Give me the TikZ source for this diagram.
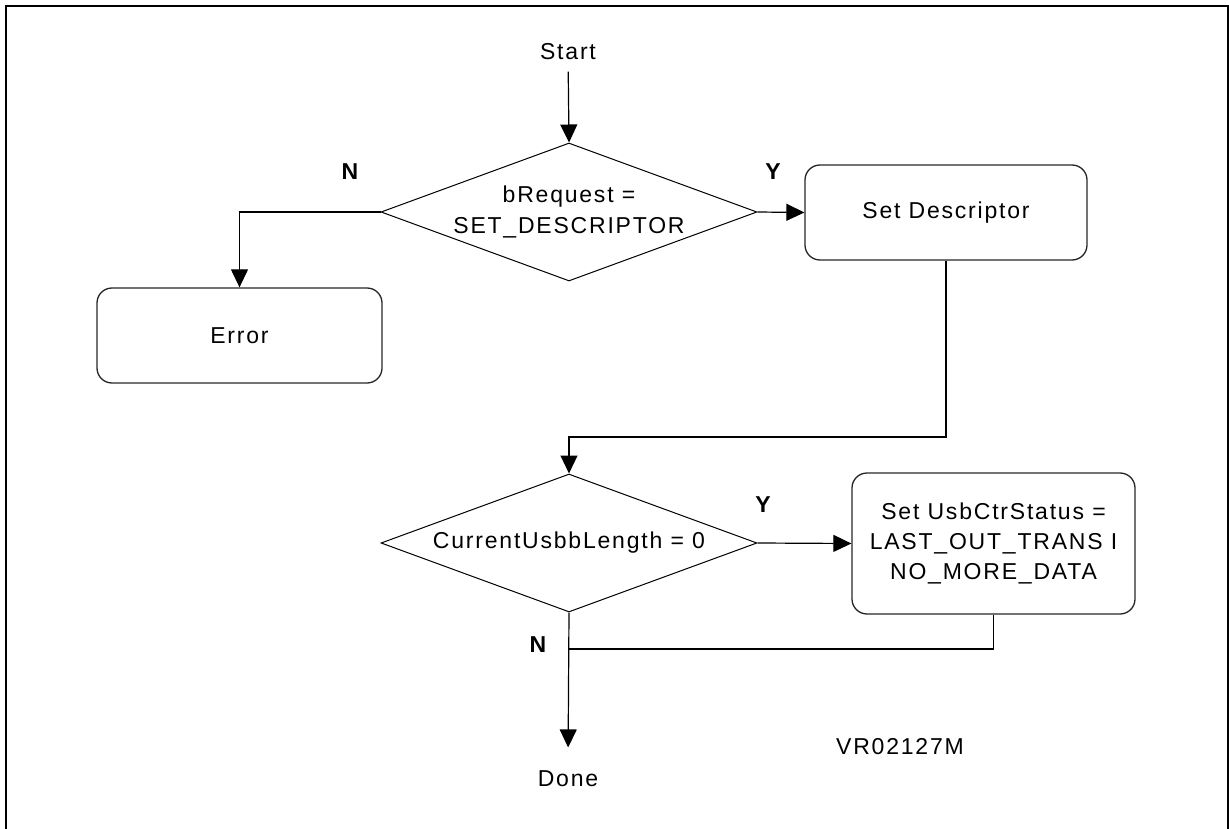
\documentclass[tikz,border=0pt]{standalone}
\usepackage{fontspec}
\setmainfont{Liberation Sans}[LetterSpace=7.8]
\usetikzlibrary{shapes.geometric,arrows.meta}
\begin{document}
\begin{tikzpicture}[x=1pt,y=-1pt,
  font=\fontsize{23}{31}\selectfont,
  box/.style={draw=black!85, line width=1.3pt, rounded corners=15pt, align=center, inner sep=0pt},
  dia/.style={draw, diamond, line width=1pt, inner sep=0pt, minimum width=376pt, minimum height=138pt},
  txt/.style={align=center, inner sep=0pt},
  conn/.style={line width=1.2pt},
  arr/.style={conn, -{Triangle[length=18pt,width=17pt]}},
  yn/.style={font=\fontsize{23}{28}\selectfont\bfseries}]
\useasboundingbox (0,0) rectangle (1229,829);
\draw[line width=2pt] (6,840) -- (6,6) -- (1228,6) -- (1228,840);

\node (start) at (568,52) {Start};
\node[dia] (d1) at (569,212) {};
\node[txt] (d1t) at (d1.center) {bRequest =\\SET\_DESCRIPTOR};
\node[box, minimum width=282pt, minimum height=95pt] (sd) at (946,212.5) {Set Descriptor};
\node[box, minimum width=285pt, minimum height=95pt] (err) at (239.5,335.5) {Error};
\node[dia] (d2) at (569,543) {};
\node[txt] (d2t) at (d2.center) {CurrentUsbbLength = 0};
\node[box, minimum width=283pt, minimum height=141pt, font=\fontsize{23}{30}\selectfont] (b2) at (993.5,543.5) {Set UsbCtrStatus =\\LAST\_OUT\_TRANS I\\NO\_MORE\_DATA};
\node (done) at (568,779) {Done};
\node (vr) at (900,747) {VR02127M};

\node[yn] (n1) at (350,172) {N};
\node[yn] (y1) at (773,172) {Y};
\node[yn] (y2) at (763,505) {Y};
\node[yn] (n2) at (538,645) {N};

\coordinate (c1) at (946,437);
\coordinate (j) at (569,649);

\draw[arr, shorten <=8pt] (start) -- (d1.north);
\draw[arr] (d1.east) -- (sd.west);
\draw[arr] (d1.west) -| (err.north);
\draw[arr] (sd.south) -- (c1) -| (d2.north);
\draw[arr] (d2.east) -- (b2.west);
\draw[conn] (b2.south) |- (j);
\draw[arr, shorten >=20pt] (d2.south) -- (done.north);
\end{tikzpicture}
\end{document}
